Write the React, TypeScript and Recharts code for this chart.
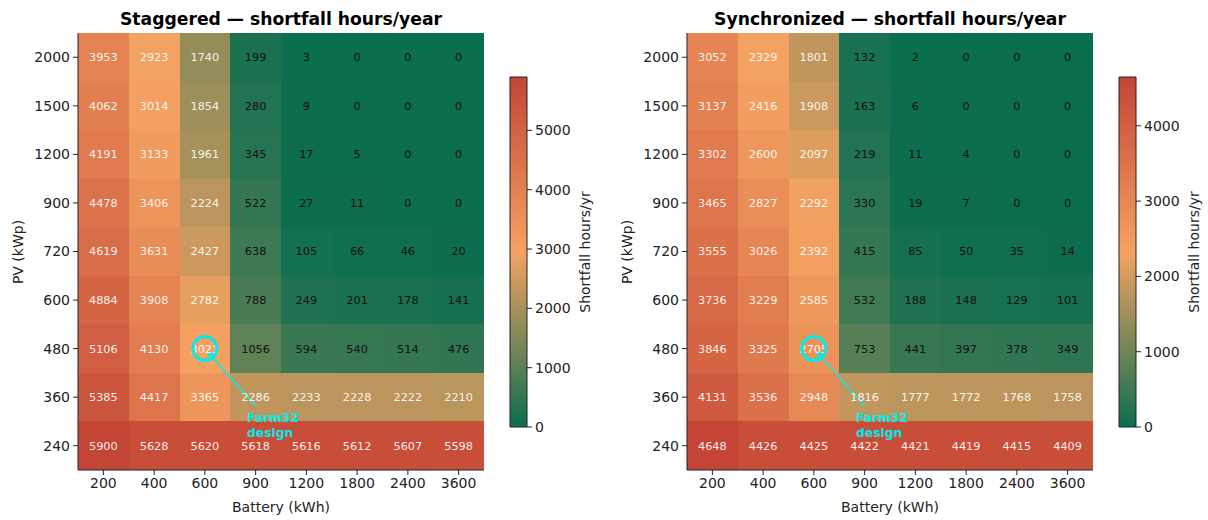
import { ScatterChart, Scatter, XAxis, YAxis, ReferenceArea, ReferenceDot, ReferenceLine } from 'recharts';

// battery sizes along x, PV sizes along y (bottom row first)
const batteryKWh = ['200', '400', '600', '900', '1200', '1800', '2400', '3600'];
const pvKWp = ['240', '360', '480', '600', '720', '900', '1200', '1500', '2000'];

// shortfall hours/year, one row per PV size (240 first)
const staggeredHours = [
  [5900, 5628, 5620, 5618, 5616, 5612, 5607, 5598],
  [5385, 4417, 3365, 2286, 2233, 2228, 2222, 2210],
  [5106, 4130, 3021, 1056, 594, 540, 514, 476],
  [4884, 3908, 2782, 788, 249, 201, 178, 141],
  [4619, 3631, 2427, 638, 105, 66, 46, 20],
  [4478, 3406, 2224, 522, 27, 11, 0, 0],
  [4191, 3133, 1961, 345, 17, 5, 0, 0],
  [4062, 3014, 1854, 280, 9, 0, 0, 0],
  [3953, 2923, 1740, 199, 3, 0, 0, 0],
];

const synchronizedHours = [
  [4648, 4426, 4425, 4422, 4421, 4419, 4415, 4409],
  [4131, 3536, 2948, 1816, 1777, 1772, 1768, 1758],
  [3846, 3325, 2705, 753, 441, 397, 378, 349],
  [3736, 3229, 2585, 532, 188, 148, 129, 101],
  [3555, 3026, 2392, 415, 85, 50, 35, 14],
  [3465, 2827, 2292, 330, 19, 7, 0, 0],
  [3302, 2600, 2097, 219, 11, 4, 0, 0],
  [3137, 2416, 1908, 163, 6, 0, 0, 0],
  [3052, 2329, 1801, 132, 2, 0, 0, 0],
];

const staggeredBarTicks = [0, 1000, 2000, 3000, 4000, 5000];
const synchronizedBarTicks = [0, 1000, 2000, 3000, 4000];

// Farm32 design point: battery 600, PV 480
const design = { x: 2, y: 2 };
const arrowTail = { x: 3.0, y: 0.82 };
const arrowHead = { x: 2.06, y: 1.93 };
const designLabelAt = { x: 2.83, y: 0.49 };

const FONT = '"DejaVu Sans", sans-serif';
const INK = '#222';
const CYAN = '#00ecec';

const GREEN = [11, 110, 79];
const ORANGE = [244, 162, 97];
const RED = [196, 69, 54];

function shortfallColor(v: number, max: number) {
  const t = Math.max(0, Math.min(1, v / max));
  const [a, b, f] = t < 0.5 ? [GREEN, ORANGE, t / 0.5] : [ORANGE, RED, (t - 0.5) / 0.5];
  const c = a.map((ch, i) => Math.round(ch + (b[i] - ch) * f));
  return `rgb(${c[0]},${c[1]},${c[2]})`;
}

function CellText(props: any) {
  const { cx, cy, payload } = props;
  const light = payload.v > 1400;
  return (
    <text x={cx} y={cy} dy="0.35em" textAnchor="middle" fontSize={11.3} fontFamily={FONT}
      fill={light ? '#fff' : '#111'} fillOpacity={light ? 0.92 : 1}>
      {payload.v}
    </text>
  );
}

function DesignLabel(props: any) {
  const { cx, cy } = props;
  return (
    <text x={cx} y={cy} fontSize={12.3} fontWeight="bold" fontFamily={FONT} fill={CYAN}>
      <tspan x={cx}>Farm32</tspan>
      <tspan x={cx} dy={15}>design</tspan>
    </text>
  );
}

function ArrowShape(props: any) {
  const { x1, y1, x2, y2 } = props;
  const a = Math.atan2(y2 - y1, x2 - x1);
  const len = 8;
  const spread = 0.45;
  const p1 = `${x2 - len * Math.cos(a - spread)},${y2 - len * Math.sin(a - spread)}`;
  const p2 = `${x2 - len * Math.cos(a + spread)},${y2 - len * Math.sin(a + spread)}`;
  return (
    <g>
      <line x1={x1} y1={y1} x2={x2} y2={y2} stroke={CYAN} strokeWidth={1.5} />
      <polyline points={`${p1} ${x2},${y2} ${p2}`} fill="none" stroke={CYAN} strokeWidth={1.5} />
    </g>
  );
}

function Label({ x, y, text, size = 14, bold = false, rotate = false }: any) {
  return (
    <div style={{
      position: 'absolute', left: x, top: y, whiteSpace: 'nowrap',
      transform: `translate(-50%, -50%)${rotate ? ' rotate(-90deg)' : ''}`,
      fontFamily: FONT, fontSize: size, fontWeight: bold ? 'bold' : 'normal', color: bold ? '#000' : INK,
      lineHeight: 1,
    }}>
      {text}
    </div>
  );
}

function Panel({ left, title, hours, barTicks, gradId }: any) {
  const max = Math.max(...hours.flat());
  const cells = hours.flatMap((row: number[], r: number) => row.map((v, c) => ({ x: c, y: r, v })));
  const axisTick = { fill: INK, fontSize: 14, fontFamily: FONT };

  return (
    <div style={{ position: 'absolute', left, top: 0, width: 600, height: 520 }}>
      <div style={{ position: 'absolute', left: 0, top: 0 }}>
        <ScatterChart width={600} height={520} margin={{ top: 33, right: 116, bottom: 8, left: 28 }}>
          <XAxis type="number" dataKey="x" domain={[-0.5, 7.5]} ticks={batteryKWh.map((_, i) => i)}
            tickFormatter={(i: number) => batteryKWh[i]} height={42} tick={axisTick}
            tickSize={5} tickMargin={3} axisLine={{ stroke: INK }} tickLine={{ stroke: INK }} allowDataOverflow />
          <YAxis type="number" dataKey="y" domain={[-0.5, 8.5]} ticks={pvKWp.map((_, i) => i)}
            tickFormatter={(i: number) => pvKWp[i]} width={50} tick={axisTick}
            tickSize={5} tickMargin={3} axisLine={{ stroke: INK }} tickLine={{ stroke: INK }} allowDataOverflow />
          {cells.map((d: any) => (
            <ReferenceArea key={`${d.x}-${d.y}`} x1={d.x - 0.5} x2={d.x + 0.5} y1={d.y - 0.5} y2={d.y + 0.5}
              fill={shortfallColor(d.v, max)} fillOpacity={1} stroke="none" shapeRendering="crispEdges"
              ifOverflow="visible" />
          ))}
          <Scatter data={cells} shape={CellText} isAnimationActive={false} />
          <ReferenceDot x={design.x} y={design.y} r={12} fill="none" stroke={CYAN} strokeWidth={3} ifOverflow="visible" />
          <ReferenceLine segment={[arrowTail, arrowHead]} shape={ArrowShape} ifOverflow="visible" />
          <Scatter data={[designLabelAt]} shape={DesignLabel} isAnimationActive={false} />
        </ScatterChart>
      </div>

      <div style={{ position: 'absolute', left: 500, top: 0 }}>
        <ScatterChart width={100} height={520} margin={{ top: 77, right: 23, bottom: 93, left: 10 }}>
          <XAxis type="number" dataKey="x" domain={[0, 1]} hide />
          <YAxis type="number" dataKey="y" orientation="right" domain={[0, max]} ticks={barTicks}
            width={50} tick={axisTick} tickSize={5} tickMargin={3} axisLine={false} tickLine={{ stroke: INK }} allowDataOverflow />
          <ReferenceArea x1={0} x2={1} y1={0} y2={max} fill={`url(#${gradId})`} fillOpacity={1}
            stroke={INK} strokeWidth={1} ifOverflow="visible" />
          <Scatter data={[{ x: 0, y: 0 }]} shape={() => <g />} isAnimationActive={false} />
        </ScatterChart>
      </div>

      <Label x={281} y={20} text={title} size={17.2} bold />
      <Label x={281} y={507} text="Battery (kWh)" />
      <Label x={18} y={252} text="PV (kWp)" rotate />
      <Label x={585} y={252} text="Shortfall hours/yr" rotate />
    </div>
  );
}

export default function App() {
  const stops = (
    <>
      <stop offset="0%" stopColor={`rgb(${RED.join(',')})`} />
      <stop offset="50%" stopColor={`rgb(${ORANGE.join(',')})`} />
      <stop offset="100%" stopColor={`rgb(${GREEN.join(',')})`} />
    </>
  );
  return (
    <div style={{ position: 'absolute', left: 0, top: 0, width: 1208, height: 520, background: '#fff' }}>
      <svg width={0} height={0} style={{ position: 'absolute' }}>
        <defs>
          <linearGradient id="cbar-stag" x1="0" y1="0" x2="0" y2="1">{stops}</linearGradient>
          <linearGradient id="cbar-sync" x1="0" y1="0" x2="0" y2="1">{stops}</linearGradient>
        </defs>
      </svg>
      <Panel left={0} title="Staggered — shortfall hours/year" hours={staggeredHours}
        barTicks={staggeredBarTicks} gradId="cbar-stag" />
      <Panel left={609} title="Synchronized — shortfall hours/year" hours={synchronizedHours}
        barTicks={synchronizedBarTicks} gradId="cbar-sync" />
    </div>
  );
}
